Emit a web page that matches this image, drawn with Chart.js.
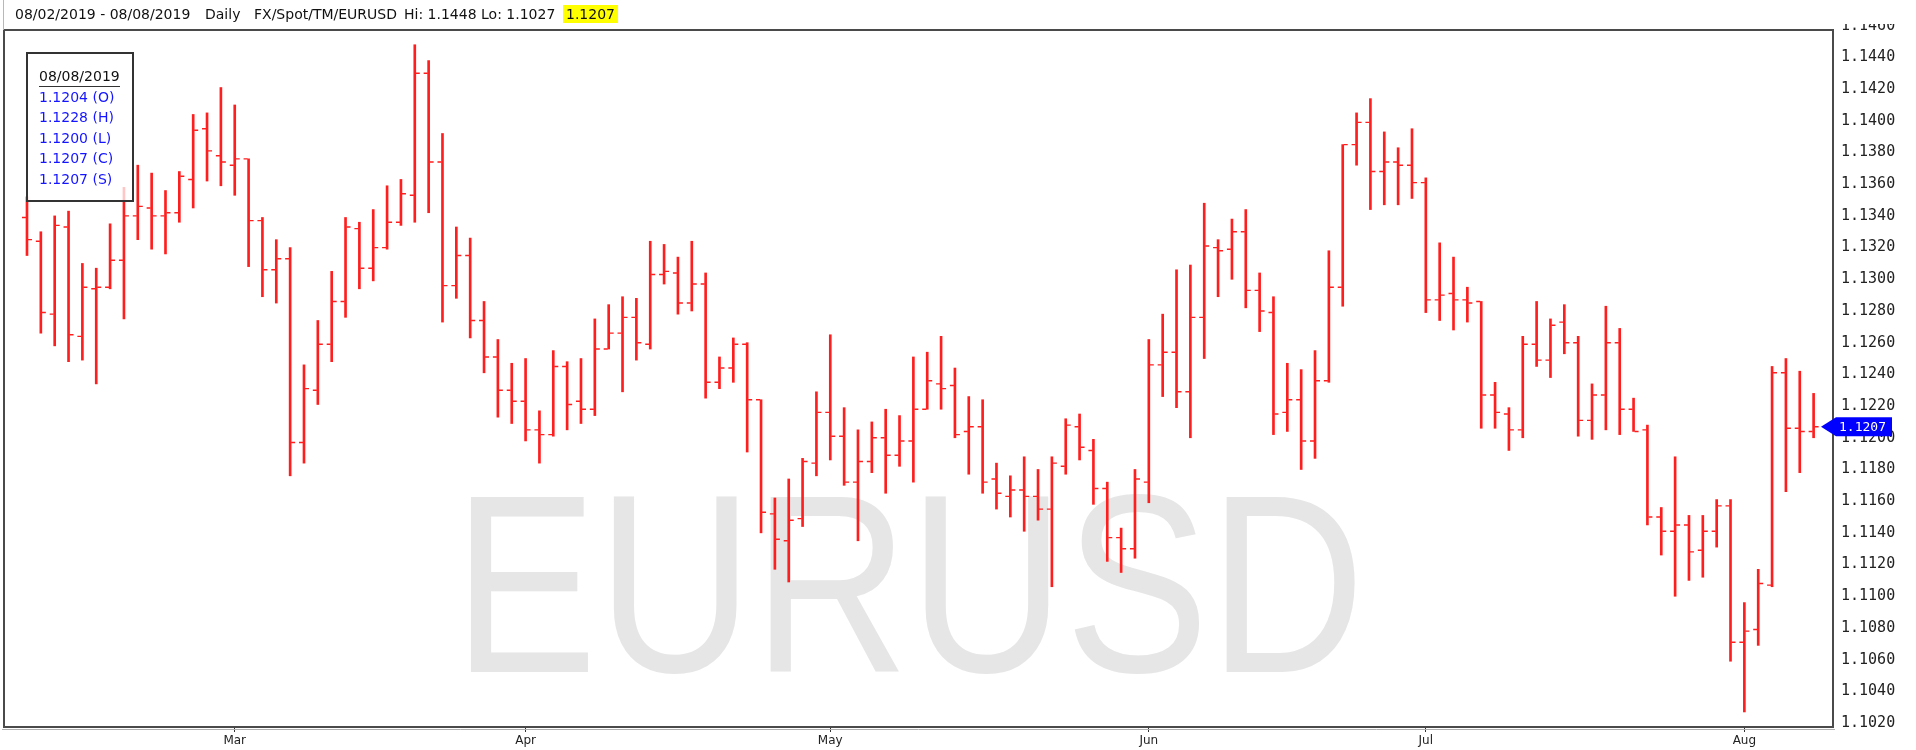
<!DOCTYPE html>
<html>
<head>
<meta charset="utf-8">
<script src="https://cdn.jsdelivr.net/npm/chart.js@4.4.1/dist/chart.umd.min.js"></script>
<style>
  html, body { margin: 0; padding: 0; background: #fff; }
  #wrap { position: relative; width: 1916px; height: 750px; overflow: hidden; }
  #mark {
    position: absolute; left: 0; top: 457px; width: 1818px;
    text-align: center; white-space: nowrap;
    font-family: 'Liberation Sans', Arial, sans-serif; font-size: 254px; line-height: 254px;
    color: #e6e6e6; transform: scaleX(0.85); transform-origin: 909px 50%;
  }
  #chart { position: absolute; left: 0; top: 0; }
  #head {
    position: absolute; left: 0; top: 0; width: 1916px; height: 24px; background: #fff;
    font-family: 'DejaVu Sans', sans-serif; font-size: 14px; color: #111;
  }
  #head span { position: absolute; top: 5px; line-height: 18px; white-space: nowrap; }
  #head .px { background: #ffff00; padding: 0 3px; }
  #head .edge { left: 3px; top: 0; width: 1px; height: 30px; background: #b8b8b8; }
  #info {
    position: absolute; left: 26px; top: 52px; width: 108px; height: 150px; box-sizing: border-box;
    border: 2px solid #333; background: rgba(255,255,255,0.75);
    font-family: 'DejaVu Sans', sans-serif; font-size: 14px; padding: 14px 0 0 11px;
  }
  #info .d { display: inline-block; line-height: 16px; color: #111; border-bottom: 1.5px solid #333; padding-bottom: 2px; }
  #info .v { line-height: 20.4px; color: #1515ff; white-space: nowrap; }
</style>
</head>
<body>
<div id="wrap">
  <div id="mark">EURUSD</div>
  <canvas id="chart" width="1916" height="750"></canvas>
  <div id="head"></div>
  <div id="info"></div>
</div>
<script>
// EURUSD daily, 08/02/2019 - 08/08/2019 (dd/mm/yyyy), one entry per trading day
const feed = 'FX/Spot/TM/EURUSD';
const firstDate = '08/02/2019';
const lastDate = '08/08/2019';

const opens = [
  1.1339, 1.1324, 1.1278, 1.1333, 1.1264, 1.1294, 1.1295, 1.1312, 1.1340, 1.1345,
  1.1340, 1.1342, 1.1363, 1.1395, 1.1378, 1.1372, 1.1376, 1.1337, 1.1306, 1.1313,
  1.1197, 1.1230, 1.1259, 1.1286, 1.1332, 1.1307, 1.1320, 1.1336, 1.1353, 1.1430,
  1.1374, 1.1296, 1.1315, 1.1274, 1.1251, 1.1230, 1.1223, 1.1205, 1.1202, 1.1245,
  1.1223, 1.1218, 1.1256, 1.1266, 1.1276, 1.1259, 1.1303, 1.1304, 1.1285, 1.1297,
  1.1235, 1.1244, 1.1259, 1.1224, 1.1152, 1.1135, 1.1149, 1.1184, 1.1216, 1.1201,
  1.1172, 1.1185, 1.1200, 1.1189, 1.1198, 1.1218, 1.1234, 1.1233, 1.1204, 1.1207,
  1.1174, 1.1163, 1.1167, 1.1163, 1.1155, 1.1182, 1.1207, 1.1192, 1.1168, 1.1137,
  1.1130, 1.1172, 1.1246, 1.1254, 1.1229, 1.1276, 1.1320, 1.1319, 1.1330, 1.1293,
  1.1279, 1.1216, 1.1224, 1.1198, 1.1236, 1.1295, 1.1385, 1.1399, 1.1368, 1.1374,
  1.1372, 1.1361, 1.1287, 1.1291, 1.1287, 1.1286, 1.1227, 1.1215, 1.1205, 1.1259,
  1.1249, 1.1273, 1.1260, 1.1211, 1.1227, 1.1260, 1.1218, 1.1205, 1.1150, 1.1141,
  1.1145, 1.1129, 1.1141, 1.1157, 1.1071, 1.1079, 1.1107, 1.1241, 1.1206, 1.1204
];
const highs = [
  1.1352, 1.1330, 1.1340, 1.1343, 1.1310, 1.1307, 1.1335, 1.1358, 1.1372, 1.1367,
  1.1356, 1.1368, 1.1404, 1.1405, 1.1421, 1.1410, 1.1376, 1.1339, 1.1325, 1.1320,
  1.1246, 1.1274, 1.1305, 1.1339, 1.1336, 1.1344, 1.1359, 1.1363, 1.1448, 1.1438,
  1.1392, 1.1333, 1.1326, 1.1286, 1.1262, 1.1247, 1.1250, 1.1217, 1.1255, 1.1248,
  1.1250, 1.1275, 1.1284, 1.1289, 1.1288, 1.1324, 1.1322, 1.1314, 1.1324, 1.1304,
  1.1251, 1.1263, 1.1260, 1.1224, 1.1162, 1.1174, 1.1187, 1.1229, 1.1265, 1.1219,
  1.1205, 1.1210, 1.1218, 1.1214, 1.1251, 1.1254, 1.1264, 1.1244, 1.1226, 1.1224,
  1.1184, 1.1176, 1.1188, 1.1180, 1.1188, 1.1212, 1.1215, 1.1199, 1.1172, 1.1143,
  1.1180, 1.1262, 1.1278, 1.1306, 1.1309, 1.1348, 1.1325, 1.1338, 1.1344, 1.1304,
  1.1289, 1.1247, 1.1243, 1.1255, 1.1318, 1.1385, 1.1405, 1.1414, 1.1393, 1.1383,
  1.1395, 1.1364, 1.1323, 1.1314, 1.1295, 1.1286, 1.1235, 1.1219, 1.1264, 1.1286,
  1.1275, 1.1284, 1.1264, 1.1234, 1.1283, 1.1269, 1.1225, 1.1208, 1.1156, 1.1188,
  1.1151, 1.1151, 1.1161, 1.1161, 1.1096, 1.1117, 1.1245, 1.1250, 1.1242, 1.1228
];
const lows = [
  1.1315, 1.1266, 1.1258, 1.1248, 1.1249, 1.1234, 1.1294, 1.1275, 1.1325, 1.1319,
  1.1316, 1.1336, 1.1345, 1.1362, 1.1359, 1.1353, 1.1308, 1.1289, 1.1285, 1.1176,
  1.1184, 1.1221, 1.1248, 1.1276, 1.1294, 1.1299, 1.1319, 1.1334, 1.1336, 1.1342,
  1.1273, 1.1288, 1.1263, 1.1241, 1.1213, 1.1209, 1.1198, 1.1184, 1.1201, 1.1205,
  1.1209, 1.1214, 1.1256, 1.1229, 1.1249, 1.1256, 1.1297, 1.1278, 1.1280, 1.1225,
  1.1231, 1.1235, 1.1191, 1.1140, 1.1117, 1.1109, 1.1144, 1.1176, 1.1186, 1.1170,
  1.1135, 1.1178, 1.1165, 1.1182, 1.1172, 1.1218, 1.1218, 1.1200, 1.1177, 1.1165,
  1.1155, 1.1150, 1.1141, 1.1148, 1.1106, 1.1177, 1.1186, 1.1158, 1.1122, 1.1115,
  1.1124, 1.1159, 1.1226, 1.1219, 1.1200, 1.1250, 1.1289, 1.1300, 1.1282, 1.1267,
  1.1202, 1.1204, 1.1180, 1.1187, 1.1235, 1.1283, 1.1372, 1.1344, 1.1347, 1.1347,
  1.1351, 1.1279, 1.1274, 1.1268, 1.1273, 1.1206, 1.1206, 1.1192, 1.1200, 1.1245,
  1.1238, 1.1253, 1.1201, 1.1199, 1.1205, 1.1202, 1.1204, 1.1145, 1.1126, 1.1100,
  1.1110, 1.1112, 1.1131, 1.1059, 1.1027, 1.1069, 1.1106, 1.1166, 1.1178, 1.1200
];
const closes = [
  1.1325, 1.1279, 1.1334, 1.1265, 1.1295, 1.1295, 1.1312, 1.1340, 1.1346, 1.1340,
  1.1342, 1.1365, 1.1394, 1.1381, 1.1374, 1.1376, 1.1337, 1.1306, 1.1313, 1.1197,
  1.1231, 1.1259, 1.1286, 1.1333, 1.1307, 1.1320, 1.1336, 1.1354, 1.1430, 1.1374,
  1.1296, 1.1315, 1.1274, 1.1251, 1.1230, 1.1223, 1.1205, 1.1202, 1.1245, 1.1221,
  1.1218, 1.1256, 1.1266, 1.1276, 1.1260, 1.1303, 1.1305, 1.1285, 1.1297, 1.1235,
  1.1244, 1.1259, 1.1224, 1.1153, 1.1136, 1.1148, 1.1185, 1.1216, 1.1201, 1.1172,
  1.1185, 1.1200, 1.1189, 1.1198, 1.1218, 1.1236, 1.1231, 1.1202, 1.1207, 1.1172,
  1.1165, 1.1167, 1.1163, 1.1155, 1.1184, 1.1208, 1.1194, 1.1168, 1.1137, 1.1130,
  1.1174, 1.1246, 1.1254, 1.1229, 1.1276, 1.1321, 1.1318, 1.1330, 1.1293, 1.1280,
  1.1215, 1.1224, 1.1198, 1.1236, 1.1295, 1.1385, 1.1399, 1.1368, 1.1374, 1.1372,
  1.1361, 1.1287, 1.1290, 1.1287, 1.1285, 1.1227, 1.1216, 1.1205, 1.1259, 1.1249,
  1.1271, 1.1260, 1.1211, 1.1227, 1.1260, 1.1218, 1.1204, 1.1150, 1.1141, 1.1145,
  1.1128, 1.1141, 1.1157, 1.1071, 1.1078, 1.1108, 1.1241, 1.1206, 1.1204, 1.1207
];

// month labels sit on the first trading day of each month
const monthIdx = [15, 36, 58, 81, 101, 124];
const monthNames = ['Mar', 'Apr', 'May', 'Jun', 'Jul', 'Aug'];

const barColor = 'rgb(255,30,30)';
const last = closes.length - 1;
const fmt = v => v.toFixed(4);

// header line + O/H/L/C box
const hi = Math.max(...highs), lo = Math.min(...lows);
document.getElementById('head').innerHTML =
  '<span class="edge"></span>' +
  '<span style="left:15px">' + firstDate + ' - ' + lastDate + '</span>' +
  '<span style="left:205px">Daily</span>' +
  '<span style="left:254px">' + feed + '</span>' +
  '<span style="left:404px">Hi: ' + fmt(hi) + ' Lo: ' + fmt(lo) + '</span>' +
  '<span class="px" style="left:563px">' + fmt(closes[last]) + '</span>';
document.getElementById('info').innerHTML =
  '<div class="d">' + lastDate + '</div>' +
  '<div class="v">' + fmt(opens[last]) + ' (O)</div>' +
  '<div class="v">' + fmt(highs[last]) + ' (H)</div>' +
  '<div class="v">' + fmt(lows[last]) + ' (L)</div>' +
  '<div class="v">' + fmt(closes[last]) + ' (C)</div>' +
  '<div class="v">' + fmt(closes[last]) + ' (S)</div>';

// open / close ticks next to each high-low bar
const ohlcTicks = {
  id: 'ohlcTicks',
  afterDatasetsDraw(chart) {
    const meta = chart.getDatasetMeta(0);
    const y = chart.scales.y;
    const ctx = chart.ctx;
    ctx.save();
    ctx.strokeStyle = barColor;
    ctx.lineWidth = 1.4;
    meta.data.forEach((bar, i) => {
      const yo = y.getPixelForValue(opens[i]);
      const yc = y.getPixelForValue(closes[i]);
      ctx.beginPath();
      ctx.moveTo(bar.x - 5, yo); ctx.lineTo(bar.x - 1, yo);
      ctx.moveTo(bar.x + 1, yc); ctx.lineTo(bar.x + 5, yc);
      ctx.stroke();
    });
    ctx.restore();
  }
};

// plot frame and the blue last-price tag
const frameAndTag = {
  id: 'frameAndTag',
  afterDraw(chart) {
    const {ctx, chartArea: a} = chart;
    ctx.save();
    ctx.strokeStyle = '#4a4a4a';
    ctx.lineWidth = 2;
    ctx.strokeRect(a.left, a.top, a.right - a.left, a.bottom - a.top);
    ctx.strokeStyle = '#b0b0b0';
    ctx.lineWidth = 1;
    ctx.beginPath();
    ctx.moveTo(a.left - 2, a.bottom + 2.5); ctx.lineTo(a.right + 2, a.bottom + 2.5);
    ctx.stroke();

    const yp = chart.scales.y.getPixelForValue(closes[last]);
    const tip = a.right - 12, x0 = a.right + 3, x1 = a.right + 59;
    ctx.fillStyle = '#0000ff';
    ctx.beginPath();
    ctx.moveTo(tip, yp);
    ctx.lineTo(x0, yp - 9.5);
    ctx.lineTo(x1, yp - 9.5);
    ctx.lineTo(x1, yp + 9.5);
    ctx.lineTo(x0, yp + 9.5);
    ctx.closePath();
    ctx.fill();
    ctx.fillStyle = '#fff';
    ctx.font = '13px "DejaVu Sans Mono", monospace';
    ctx.textBaseline = 'middle';
    ctx.textAlign = 'left';
    ctx.fillText(fmt(closes[last]), x0 + 3, yp + 1);
    ctx.restore();
  }
};

new Chart(document.getElementById('chart'), {
  type: 'bar',
  data: {
    datasets: [{
      data: opens.map((o, i) => ({ x: i, y: [lows[i], highs[i]] })),
      backgroundColor: barColor,
      barThickness: 2,
      borderWidth: 0
    }]
  },
  options: {
    responsive: false,
    devicePixelRatio: 1,
    animation: false,
    layout: { padding: { left: 4, top: 30, right: 0, bottom: 0 } },
    plugins: { legend: { display: false }, tooltip: { enabled: false } },
    scales: {
      x: {
        type: 'linear',
        min: -1.66,
        max: 130.4,
        offset: false,
        border: { display: false },
        grid: { display: true, offset: false, drawOnChartArea: false, drawTicks: true, tickLength: 5, tickColor: '#333', lineWidth: 1 },
        afterBuildTicks: s => { s.ticks = monthIdx.map(v => ({ value: v })); },
        afterFit: s => { s.height = 23; },
        ticks: {
          autoSkip: false, maxRotation: 0, padding: 2, color: '#222',
          font: { family: 'DejaVu Sans', size: 12 },
          callback: v => monthNames[monthIdx.indexOf(v)]
        }
      },
      y: {
        position: 'right',
        min: 1.10175,
        max: 1.14573,
        border: { display: false },
        grid: { display: false, drawTicks: false },
        afterBuildTicks: s => { s.ticks.push({ value: 1.146 }); },
        afterFit: s => { s.width = 83; },
        ticks: {
          stepSize: 0.002, includeBounds: false, padding: 8, color: '#222',
          font: { family: 'DejaVu Sans Mono', size: 15 },
          callback: v => v.toFixed(4)
        }
      }
    }
  },
  plugins: [ohlcTicks, frameAndTag]
});
</script>
</body>
</html>
